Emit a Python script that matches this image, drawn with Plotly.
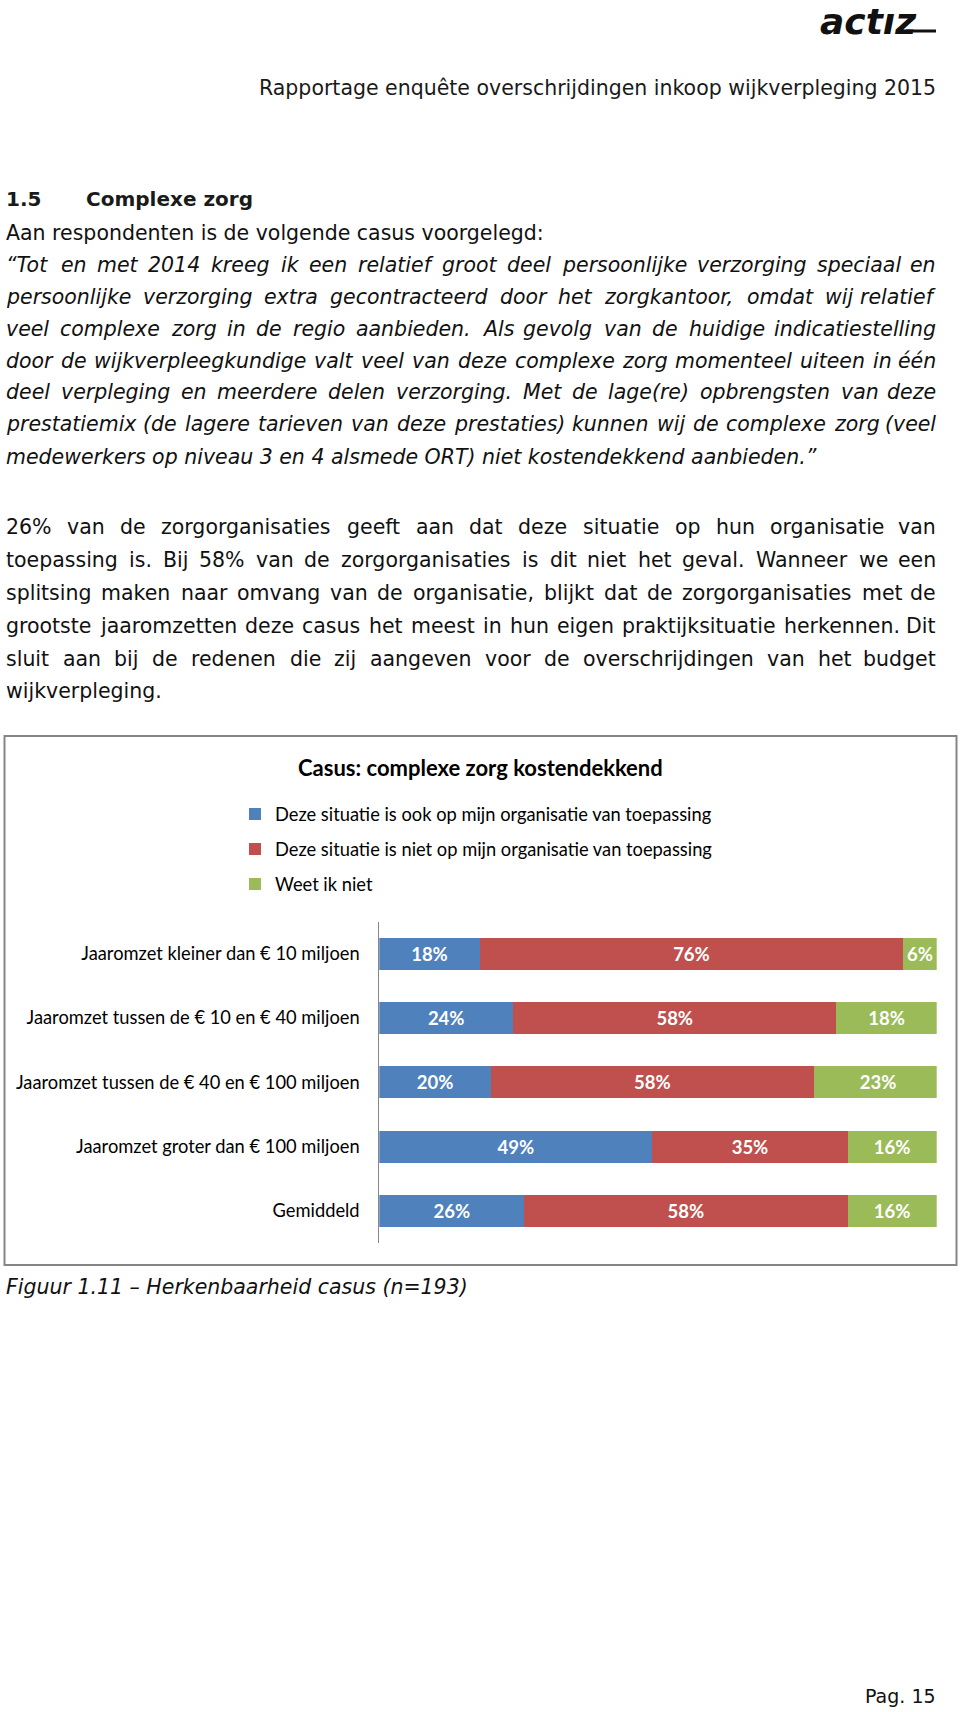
import plotly.graph_objects as go

# ---------------- data ----------------
categories = [
    "Jaaromzet kleiner dan € 10 miljoen",
    "Jaaromzet tussen de € 10 en € 40 miljoen",
    "Jaaromzet tussen de € 40 en € 100 miljoen",
    "Jaaromzet groter dan € 100 miljoen",
    "Gemiddeld",
]
series_names = [
    "Deze situatie is ook op mijn organisatie van toepassing",
    "Deze situatie is niet op mijn organisatie van toepassing",
    "Weet ik niet",
]
ook = [18, 24, 20, 49, 26]
niet = [76, 58, 58, 35, 58]
weet = [6, 18, 23, 16, 16]
colors = ["#4F81BD", "#C0504D", "#9BBB59"]

chart_title = "Casus: complexe zorg kostendekkend"
header_text = "Rapportage enquête overschrijdingen inkoop wijkverpleging 2015"
logo_text = "actız"
heading_num = "1.5"
heading_text = "Complexe zorg"
intro_line = "Aan respondenten is de volgende casus voorgelegd:"
quote_lines = [
    "“Tot en met 2014 kreeg ik een relatief groot deel persoonlijke verzorging speciaal en",
    "persoonlijke verzorging extra gecontracteerd door het zorgkantoor, omdat wij relatief",
    "veel complexe zorg in de regio aanbieden. Als gevolg van de huidige indicatiestelling",
    "door de wijkverpleegkundige valt veel van deze complexe zorg momenteel uiteen in één",
    "deel verpleging en meerdere delen verzorging. Met de lage(re) opbrengsten van deze",
    "prestatiemix (de lagere tarieven van deze prestaties) kunnen wij de complexe zorg (veel",
    "medewerkers op niveau 3 en 4 alsmede ORT) niet kostendekkend aanbieden.”",
]
para_lines = [
    "26% van de zorgorganisaties geeft aan dat deze situatie op hun organisatie van",
    "toepassing is. Bij 58% van de zorgorganisaties is dit niet het geval. Wanneer we een",
    "splitsing maken naar omvang van de organisatie, blijkt dat de zorgorganisaties met de",
    "grootste jaaromzetten deze casus het meest in hun eigen praktijksituatie herkennen. Dit",
    "sluit aan bij de redenen die zij aangeven voor de overschrijdingen van het budget",
    "wijkverpleging.",
]
caption_text = "Figuur 1.11 – Herkenbaarheid casus (n=193)"
page_label = "Pag. 15"

# ---------------- helpers ----------------
W, H = 960, 1712
BODY = "DejaVu Sans"
CHART = "Lato"

# approximate DejaVu Sans advance widths (per 1000 em)
DV = {" ": 318, "(": 390, ")": 390, ",": 318, ".": 318, ":": 337, "%": 950, "=": 838,
      "–": 500, "“": 518, "”": 518, "é": 615, "ê": 615}
for d in "0123456789":
    DV[d] = 636
DV.update(dict(a=613, b=635, c=550, d=635, e=615, f=352, g=635, h=634, i=278, j=278, k=579,
               l=278, m=974, n=634, o=612, p=635, q=635, r=411, s=521, t=392, u=634, v=592,
               w=818, x=592, y=592, z=525))
DV.update(dict(A=684, B=686, C=698, D=770, M=863, O=787, R=695, T=611, W=989, P=603, F=575,
               H=752, J=295))


def tw(s, size):
    return sum(DV.get(c, 600) for c in s) / 1000.0 * size


def px(x):
    return x / W


def py(y):
    return 1 - y / H


LEFT, RIGHT = 5, 937
FS = 20.5
for ln in quote_lines[:-1] + para_lines[:-1]:
    words = ln.split(" ")
    need = sum(tw(w, 1) for w in words) + (len(words) - 1) * 0.22
    FS = min(FS, (RIGHT - LEFT) / need)

annotations = []


def ann(text, x, y, xanchor="left", size=FS, italic=False, bold=False, color="#111111", family=BODY):
    annotations.append(dict(
        text=text, x=px(x), y=py(y), xref="paper", yref="paper", showarrow=False,
        xanchor=xanchor, yanchor="middle", borderpad=0,
        font=dict(family=family, size=size, color=color,
                  style="italic" if italic else "normal",
                  weight="bold" if bold else "normal"),
    ))


def add_line(text, y, italic=False, justify=True):
    words = text.split(" ")
    if not justify or len(words) == 1:
        ann(text, LEFT, y, "left", italic=italic)
        return
    widths = [tw(w, FS) for w in words]
    gap = (RIGHT - LEFT - sum(widths)) / (len(words) - 1)
    x = LEFT
    for i, w in enumerate(words):
        if i == len(words) - 1:
            ann(w, RIGHT, y, "right", italic=italic)
        else:
            ann(w, x, y, "left", italic=italic)
        x += widths[i] + gap


# page text
ann(logo_text, 918, 21, "right", size=36, italic=True, bold=True, color="#111111")
ann(header_text, RIGHT, 88, "right", size=FS, color="#1a1a1a")
ann(heading_num, LEFT, 199, "left", size=20, bold=True, color="#1a1a1a")
ann(heading_text, 85, 199, "left", size=20, bold=True, color="#1a1a1a")
ann(intro_line, LEFT, 232.5, "left")
q_y = [264.5, 296.5, 328.5, 360.5, 392.5, 424.5, 456.5]
for i, ln in enumerate(quote_lines):
    add_line(ln, q_y[i], italic=True, justify=(i < len(quote_lines) - 1))
p_y = [527.5, 560, 593, 626, 658.5, 691]
for i, ln in enumerate(para_lines):
    add_line(ln, p_y[i], justify=(i < len(para_lines) - 1))
ann(caption_text, LEFT, 1287, "left", italic=True)
ann(page_label, RIGHT, 1696, "right", size=19)

# chart title
ann(chart_title, 480, 767, "center", size=22, bold=True, color="#000000", family=CHART)

# ---------------- figure ----------------
fig = go.Figure()
legend_ids = ["legend", "legend2", "legend3"]
for name, vals, col, lg in zip(series_names, [ook, niet, weet], colors, legend_ids):
    fig.add_trace(go.Bar(
        y=categories, x=vals, orientation="h", name=name,
        marker=dict(color=col, line=dict(width=0)),
        text=[f"{v}%" for v in vals], textposition="inside", insidetextanchor="middle",
        textangle=0, constraintext="none",
        textfont=dict(family=CHART, size=18.5, color="white", weight="bold"),
        legend=lg, hoverinfo="skip",
    ))

legend_y = [814, 849, 884]
leg_common = dict(xanchor="left", yanchor="middle", bgcolor="rgba(0,0,0,0)",
                  font=dict(family=CHART, size=18.3, color="#000000"), borderwidth=0)

fig.update_layout(
    width=W, height=H, margin=dict(l=0, r=0, t=0, b=0),
    paper_bgcolor="white", plot_bgcolor="white",
    barmode="stack", bargap=0.5,
    showlegend=True,
    legend=dict(x=px(235), y=py(legend_y[0]), **leg_common),
    legend2=dict(x=px(235), y=py(legend_y[1]), **leg_common),
    legend3=dict(x=px(235), y=py(legend_y[2]), **leg_common),
    annotations=annotations,
    shapes=[
        dict(type="rect", xref="paper", yref="paper", x0=px(4.5), x1=px(956.5),
             y0=py(1265), y1=py(736), line=dict(color="#858585", width=2), fillcolor="rgba(0,0,0,0)"),
        dict(type="line", xref="paper", yref="paper", x0=px(906), x1=px(936),
             y0=py(31), y1=py(31), line=dict(color="#111111", width=3)),
    ],
)
fig.update_xaxes(domain=[px(379.3), px(936.7)], range=[0, 100], visible=False, fixedrange=True)
fig.update_yaxes(
    domain=[py(1243), py(921.7)], categoryorder="array", categoryarray=categories,
    autorange="reversed", showline=True, linecolor="#868686", linewidth=1,
    ticks="", showgrid=False, zeroline=False, fixedrange=True,
    tickfont=dict(family=CHART, size=18.3, color="#000000"), ticklabelstandoff=15,
)

fig.write_html("out.html", config={"displayModeBar": False},
               post_script="document.body.style.margin='0px';")
